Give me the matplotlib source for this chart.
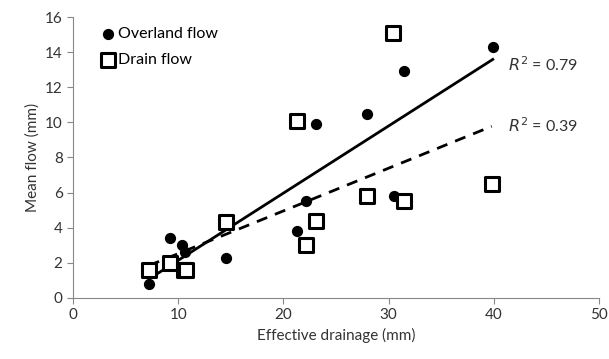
import matplotlib
matplotlib.use('Agg')
import matplotlib.pyplot as plt
import numpy as np

overland_x = [7.2, 9.2, 10.4, 10.6, 14.5, 21.3, 22.1, 23.1, 27.9, 30.5, 31.5, 39.9]
overland_y = [0.8, 3.4, 3.0, 2.6, 2.3, 3.8, 5.5, 9.9, 10.5, 5.8, 12.9, 14.3]

drain_x = [7.2, 9.2, 10.5, 10.7, 14.5, 21.3, 22.1, 23.1, 27.9, 30.4, 31.5, 39.8]
drain_y = [1.6, 2.0, 1.6, 1.6, 4.3, 10.1, 3.0, 4.4, 5.8, 15.1, 5.5, 6.5]

plt.rcParams['font.family'] = ['Lato', 'DejaVu Sans']
grey = '#888888'

fig = plt.figure(figsize=(6.09, 3.59), dpi=100)
ax = fig.add_axes([0.12, 0.17, 0.8636, 0.7826])

ax.scatter(overland_x, overland_y, s=50, color='black', marker='o', label='Overland flow', zorder=3)
ax.scatter(drain_x, drain_y, s=90, facecolor='white', edgecolor='black', linewidth=2.2,
           marker='s', label='Drain flow', zorder=3)

# linear trend lines
xs = np.array([min(overland_x), max(overland_x)])
p1 = np.polyfit(overland_x, overland_y, 1)
ax.plot(xs, np.polyval(p1, xs), color='black', lw=2, zorder=2)
xs2 = np.array([min(drain_x), max(drain_x)])
p2 = np.polyfit(drain_x, drain_y, 1)
ax.plot(xs2, np.polyval(p2, xs2), color='black', lw=2, ls=(0, (4, 3)), zorder=2)

ax.text(41.3, 13.3, r'$R^2$ = 0.79', fontsize=11.5, color='#333333', va='center')
ax.text(41.3, 9.8, r'$R^2$ = 0.39', fontsize=11.5, color='#333333', va='center')

ax.set_xlim(0, 50)
ax.set_ylim(0, 16)
ax.set_xticks(range(0, 51, 10))
ax.set_yticks(range(0, 17, 2))
for s in ['top', 'right']:
    ax.spines[s].set_visible(False)
for s in ['left', 'bottom']:
    ax.spines[s].set_color(grey)
ax.tick_params(direction='out', color=grey, length=4, labelsize=11, labelcolor='#333333')
ax.set_xlabel('Effective drainage (mm)', fontsize=11, color='#333333')
ax.set_ylabel('Mean flow (mm)', fontsize=11, color='#333333')

ax.legend(loc='upper left', frameon=False, fontsize=11.5, handletextpad=0.0,
          borderaxespad=0.2, labelspacing=0.75, handlelength=1.2,
          bbox_to_anchor=(0.03, 1.0))

fig.savefig('out.png', dpi=100)
